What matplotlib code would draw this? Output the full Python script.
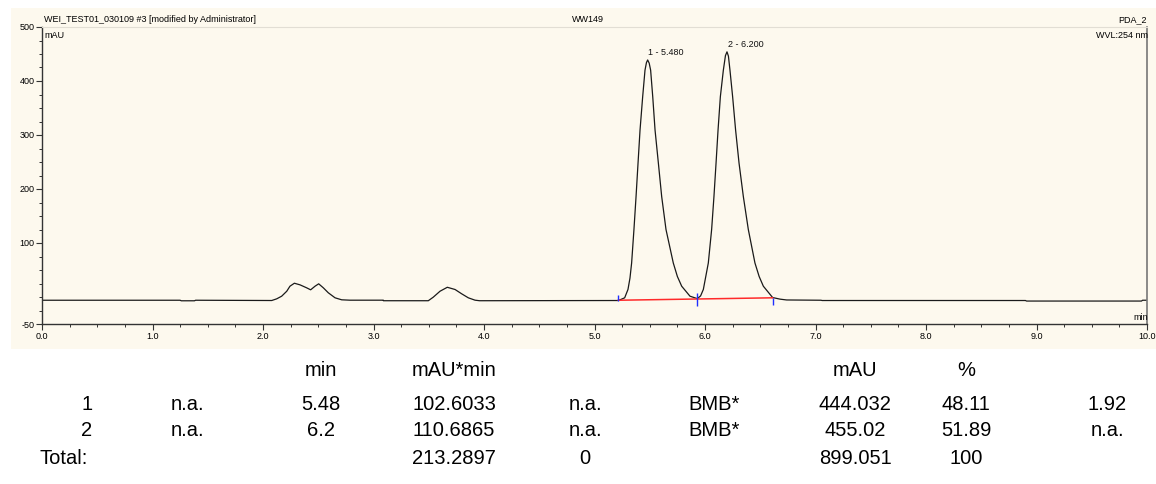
import matplotlib
matplotlib.use('Agg')
from matplotlib import pyplot as plt
from matplotlib.patches import Rectangle
from matplotlib.ticker import FixedLocator

plt.rcParams['font.family'] = ['Liberation Sans', 'DejaVu Sans']

#region `data`
# chromatogram trace (min, mAU)
trace_time = [0.00, 1.25, 1.26, 1.38, 1.39, 2.079, 2.124, 2.169, 2.215, 2.244, 2.284, 2.335,
              2.395, 2.431, 2.471, 2.504, 2.546, 2.591, 2.652, 2.712, 2.787, 3.089, 3.09,
              3.496, 3.541, 3.602, 3.668, 3.738, 3.798, 3.858, 3.919, 3.96, 5.216, 5.273,
              5.303, 5.321, 5.336, 5.357, 5.376, 5.394, 5.412, 5.436, 5.457, 5.47, 5.481,
              5.495, 5.508, 5.527, 5.548, 5.578, 5.608, 5.647, 5.713, 5.75, 5.789, 5.864,
              5.93, 5.96, 5.985, 6.030, 6.060, 6.081, 6.100, 6.118, 6.139, 6.166, 6.185,
              6.199, 6.212, 6.226, 6.250, 6.277, 6.308, 6.347, 6.392, 6.452, 6.49, 6.528,
              6.612, 6.68, 6.739, 7.05, 7.06, 8.9, 8.91, 9.95, 9.96, 10.0]
trace_mau = [-6, -6, -7, -7, -6, -6.5, -3.4, 1.5, 10.7, 20, 25.5, 22.5,
             17, 13.3, 20, 24.4, 17, 7.8, -1.5, -5.2, -5.9, -5.9, -6.9,
             -6.9, -0.3, 10.7, 18, 13.9, 5.9, -1.5, -5.9, -6.9, -6.5, -1.5,
             14, 35, 63, 125, 186, 248, 309, 371, 420, 434, 439,
             433, 420, 371, 309, 248, 186, 125, 63, 38, 20, 1.5,
             -3, 2, 14, 63, 125, 186, 248, 309, 371, 420, 447,
             454, 446, 420, 371, 309, 248, 186, 125, 63, 38, 20,
             -1, -4, -5.5, -6, -6.5, -6.5, -7.5, -7.5, -6, -6]

# integration baseline and peak delimiters
base_time = [5.216, 6.612]
base_mau = [-6, -1.5]
delim_time = [5.216, 5.93, 6.612]
delim_low = [-8, -16, -14]
delim_high = [4.6, 7.5, -1.5]

peak_labels = ['1 - 5.480', '2 - 6.200']
peak_time = [5.481, 6.199]
peak_mau = [439, 454]

y_major = [-50, 100, 200, 300, 400, 500]
y_minor = [-25, 0, 25, 50, 75, 125, 150, 175, 225, 250, 275, 325, 350, 375, 425, 450, 475]
x_major = [0, 1, 2, 3, 4, 5, 6, 7, 8, 9, 10]

# result table under the chart
table_header = ['', '', 'min', 'mAU*min', '', '', 'mAU', '%', '']
table_row1 = ['1', 'n.a.', '5.48', '102.6033', 'n.a.', 'BMB*', '444.032', '48.11', '1.92']
table_row2 = ['2', 'n.a.', '6.2', '110.6865', 'n.a.', 'BMB*', '455.02', '51.89', 'n.a.']
table_total = ['Total:', '', '', '213.2897', '0', '', '899.051', '100', '']
#endregion

W, H = 1156, 484
fig = plt.figure(figsize=(W / 100, H / 100), dpi=100)
fig.patch.set_facecolor('white')

def fx(px):
    return px / W

def fy(py):
    return 1 - py / H

# cream panel behind the chromatogram
fig.patches.append(Rectangle((fx(11), fy(349)), fx(1156) - fx(11), fy(8) - fy(349),
                             transform=fig.transFigure, facecolor='#fdf9ee',
                             edgecolor='none', zorder=-5))

ax = fig.add_axes([fx(42), fy(324), fx(1147) - fx(42), fy(27) - fy(324)])
ax.set_zorder(2)
ax.set_facecolor('none')
ax.set_xlim(0, 10)
ax.set_ylim(-50, 500)

ax.plot(trace_time, trace_mau, color='#1a1a1a', lw=0.9)
ax.plot(base_time, base_mau, color='#ff2a2a', lw=1.1)
ax.vlines(delim_time, delim_low, delim_high, color='#1f2fff', lw=1.0)

for lbl, t, v in zip(peak_labels, peak_time, peak_mau):
    ax.text(t + 0.005, v + 5, lbl, fontsize=6.5, ha='left', va='bottom', color='#111')

for s in ['left', 'bottom']:
    ax.spines[s].set_color('#333333')
    ax.spines[s].set_linewidth(1.0)
ax.spines['right'].set_color('#777777')
ax.spines['right'].set_linewidth(1.2)
ax.spines['top'].set_color('#e2ded4')
ax.spines['top'].set_linewidth(0.8)

ax.yaxis.set_major_locator(FixedLocator(y_major))
ax.yaxis.set_minor_locator(FixedLocator(y_minor))
ax.xaxis.set_major_locator(FixedLocator(x_major))
ax.xaxis.set_minor_locator(FixedLocator([i * 0.25 for i in range(41) if i % 4]))
ax.set_xticklabels(['%.1f' % x for x in x_major])
ax.set_yticklabels([str(y) for y in y_major])
ax.tick_params(which='major', direction='out', length=4, width=0.8, color='#333',
               labelsize=6.5, pad=1.5)
ax.tick_params(which='minor', direction='out', length=2.5, width=0.7, color='#333')

# header texts
fig.text(fx(44), fy(20), 'WEI_TEST01_030109 #3 [modified by Administrator]', fontsize=6.5,
         ha='left', va='center')
fig.text(fx(44), fy(35), 'mAU', fontsize=6.5, ha='left', va='center')
fig.text(fx(588), fy(20), 'WW149', fontsize=6.5, ha='center', va='center')
fig.text(fx(1147), fy(20), 'PDA_2', fontsize=6.5, ha='right', va='center')
fig.text(fx(1148), fy(35), 'WVL:254 nm', fontsize=6.5, ha='right', va='center')
fig.text(fx(1148), fy(317), 'min', fontsize=6.5, ha='right', va='center')

# table
col_x = [87, 188, 321, 454, 585, 714, 855, 966, 1107]
row_y = [371, 404, 431, 458]
for row, ry in zip([table_header, table_row1, table_row2, table_total], row_y):
    for i, (cell, cx) in enumerate(zip(row, col_x)):
        if not cell:
            continue
        if cell == 'Total:':
            fig.text(fx(40), fy(ry), cell, fontsize=14.5, ha='left', va='center')
        else:
            fig.text(fx(cx), fy(ry), cell, fontsize=14.5, ha='center', va='center')

fig.savefig('out.png', dpi=100)
